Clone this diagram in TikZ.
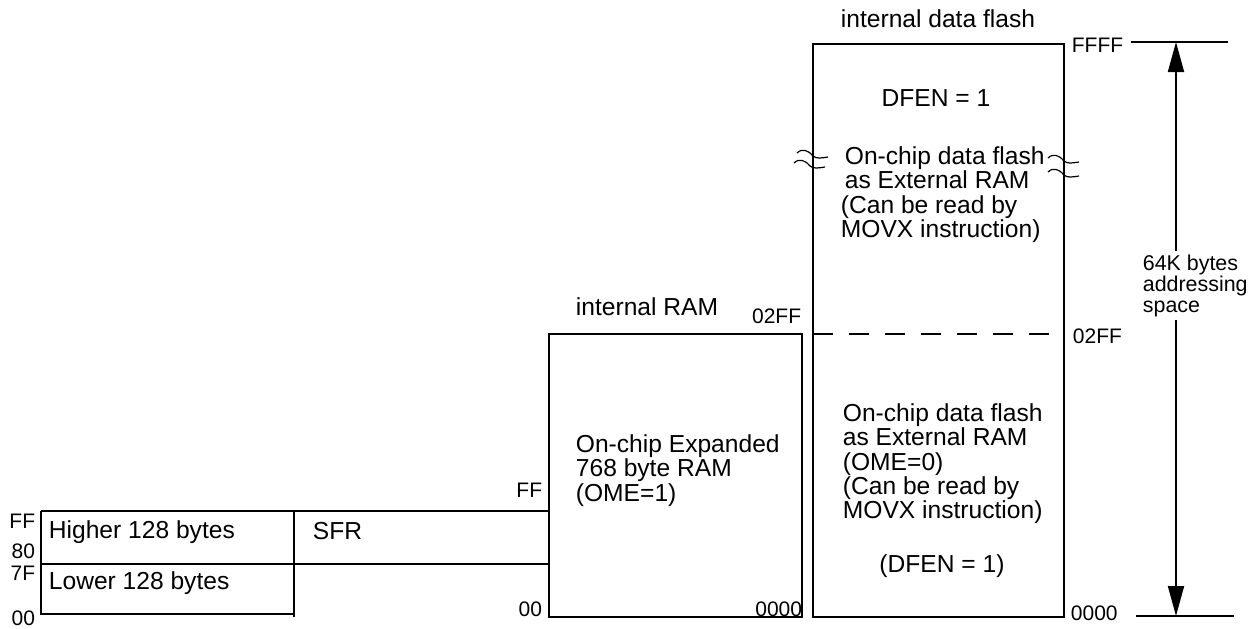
\documentclass[tikz,border=0pt]{standalone}
\usepackage{fontspec}
\setmainfont{Liberation Sans}
\usetikzlibrary{arrows.meta}
\begin{document}
\begin{tikzpicture}[x=0.5pt,y=-0.5pt,line width=0.9pt,>={Triangle[length=15pt,width=8pt]},
  txt/.style={inner sep=0pt,font=\fontsize{12.3}{12.1}\selectfont},
  addr/.style={inner sep=0pt,font=\fontsize{10.5}{10.5}\selectfont},
  blk/.style={txt,anchor=north west,align=left},
  brkmark/.pic={\draw[line width=0.6pt] (0,0) .. controls (5,-5) and (11,-3) .. (16,3) .. controls (19,6) and (25,5) .. (31,4);}]
\useasboundingbox (0,0) rectangle (1255,628);
\draw (41,511) -- (549,511) (41,564) -- (549,564) (41,614) -- (295,614);
\draw (41,511) -- (41,615) (294,511) -- (294,617);
\node[txt,anchor=base west] (hi) at (48,538) {Higher 128 bytes};
\node[txt,anchor=base west] (lo) at (48,589) {Lower 128 bytes};
\node[txt,anchor=base west] (sfr) at (312,539) {SFR};
\node[addr,anchor=base east] (aff) at (36,528) {FF};
\node[addr,anchor=base east] (a80) at (36,558) {80};
\node[addr,anchor=base east] (a7f) at (36,580) {7F};
\node[addr,anchor=base east] (a00) at (36,625) {00};
\draw (549,334) rectangle (802,617);
\node[txt,anchor=base] (ramttl) at (647,315) {internal RAM};
\node[blk] (ram) at (575,434) {On-chip Expanded\\768 byte RAM\\(OME=1)};
\node[addr,anchor=base east] (rtop) at (802,323) {02FF};
\node[addr,anchor=base east] (rff) at (543,497) {FF};
\node[addr,anchor=base east] (r00) at (543,616) {00};
\node[addr,anchor=base east] (rbot) at (803,616) {0000};
\draw (813,44) rectangle (1064,617);
\draw[dashed,dash pattern=on 10pt off 8pt] (813,334) -- (1064,334);
\node[txt,anchor=base] (flttl) at (938,27) {internal data flash};
\node[txt,anchor=base] (dfen) at (936,106) {DFEN = 1};
\node[blk] (xram) at (840,146) {\hspace{2pt}On-chip data flash\\\hspace{2pt}as External RAM\\(Can be read by\\MOVX instruction)};
\node[blk] (flash) at (842,403) {On-chip data flash\\as External RAM\\(OME=0)\\(Can be read by\\MOVX instruction)};
\node[txt,anchor=base] (dfenb) at (942,572) {(DFEN = 1)};
\pic at (797,153) {brkmark};
\pic at (794,163) {brkmark};
\pic at (1048,158) {brkmark};
\pic at (1048,172) {brkmark};
\node[addr,anchor=base west] (fffff) at (1071,52) {FFFF};
\node[addr,anchor=base west] (f02ff) at (1072,343) {02FF};
\node[addr,anchor=base west] (f0000) at (1070,620) {0000};
\draw (1131,42) -- (1228,42) (1136,616) -- (1234,616);
\coordinate (ffff) at (1176,42);
\coordinate (zero) at (1176,616);
\node[inner sep=1.5pt,font=\fontsize{10.7}{10.4}\selectfont,align=left,anchor=north west] (span) at (1139,251) {64K bytes\\addressing\\space};
\draw[->] (span.north -| ffff) -- (ffff);
\draw[->] (span.south -| zero) -- (zero);
\end{tikzpicture}
\end{document}
